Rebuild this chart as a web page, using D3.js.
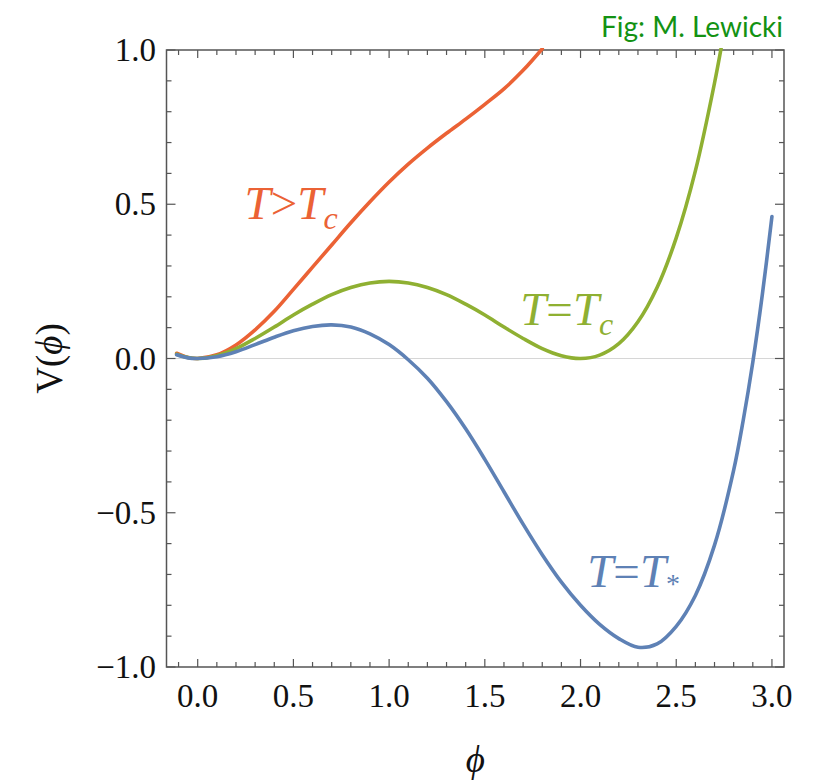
<!DOCTYPE html>
<html>
<head>
<meta charset="utf-8">
<style>
body { margin: 0; background: #fff; }
.frame { fill: none; stroke: #555; stroke-width: 1.5px; }
.tick line { stroke: #555; stroke-width: 1.2px; }
.curve { fill: none; stroke-width: 3.6px; stroke-linecap: round; }
</style>
</head>
<body>
<svg width="820" height="781"></svg>
<script src="https://d3js.org/d3.v7.min.js"></script>
<script>

// values: phi and V(phi)
var phiRed   = [-0.11, -0.05, 0.0, 0.1, 0.2, 0.3, 0.4, 0.5, 0.6, 0.7, 0.8, 0.9, 1.0, 1.1, 1.2, 1.3, 1.4, 1.5, 1.6, 1.7, 1.8];
var vRed     = [0.017, 0.003, 0.0, 0.012, 0.044, 0.093, 0.153, 0.224, 0.296, 0.368, 0.440, 0.508, 0.572, 0.630, 0.682, 0.730, 0.776, 0.824, 0.874, 0.934, 1.004];

var phiGreen = [-0.11, -0.05, 0.0, 0.1, 0.2, 0.3, 0.4, 0.5, 0.6, 0.7, 0.8, 0.9, 1.0, 1.1, 1.2, 1.3, 1.4, 1.5, 1.6, 1.7, 1.8, 1.9, 2.0, 2.1, 2.2, 2.3, 2.4, 2.5, 2.6, 2.7, 2.75];
var vGreen   = [0.014, 0.003, 0.0, 0.009, 0.032, 0.065, 0.102, 0.141, 0.176, 0.207, 0.230, 0.245, 0.250, 0.245, 0.230, 0.207, 0.176, 0.141, 0.102, 0.065, 0.032, 0.009, 0.0, 0.011, 0.048, 0.119, 0.230, 0.391, 0.608, 0.893, 1.06];

var phiBlue  = [-0.11, -0.05, 0.0, 0.1, 0.2, 0.3, 0.4, 0.5, 0.6, 0.7, 0.8, 0.9, 1.0, 1.1, 1.2, 1.3, 1.4, 1.5, 1.6, 1.7, 1.8, 1.9, 2.0, 2.1, 2.2, 2.3, 2.4, 2.5, 2.6, 2.7, 2.8, 2.85, 2.9, 2.95, 3.0];
var vBlue    = [0.012, 0.002, 0.0, 0.006, 0.022, 0.045, 0.069, 0.090, 0.104, 0.109, 0.102, 0.080, 0.045, -0.004, -0.064, -0.140, -0.228, -0.327, -0.432, -0.537, -0.636, -0.725, -0.800, -0.862, -0.908, -0.936, -0.925, -0.868, -0.768, -0.605, -0.362, -0.200, -0.012, 0.208, 0.460];

var xTicks = [0.0, 0.5, 1.0, 1.5, 2.0, 2.5, 3.0];
var yTicks = [-1.0, -0.5, 0.0, 0.5, 1.0];

var series = [
    {name: "red",   color: "#EB6235", phi: phiRed,   v: vRed},
    {name: "green", color: "#8FB032", phi: phiGreen, v: vGreen},
    {name: "blue",  color: "#5E81B5", phi: phiBlue,  v: vBlue}
];

// curve labels (data coords of the label's left baseline)
var labels = [
    {rel: ">", sub: "c", color: "#EB6235", phi: 0.245, v: 0.452, subDy: 10, subSize: 32},
    {rel: "=", sub: "c", color: "#8FB032", phi: 1.685, v: 0.108, subDy: 10, subSize: 32},
    {rel: "=", sub: "*", color: "#5E81B5", phi: 2.035, v: -0.741, subDy: 6, subSize: 28}
];

var SERIF = "'Liberation Serif', 'Times New Roman', serif";

var svg = d3.select("svg");

// plot box (window.top is reserved, so prefix these)
var plotLeft = 166.5, plotRight = 784, plotTop = 50, plotBottom = 667;

var x = d3.scaleLinear().domain([-0.163, 3.063]).range([plotLeft, plotRight]);
var y = d3.scaleLinear().domain([-1, 1]).range([plotBottom, plotTop]);

svg.append("clipPath").attr("id", "plotclip")
    .append("rect")
    .attr("x", plotLeft).attr("y", plotTop - 2)
    .attr("width", plotRight - plotLeft).attr("height", plotBottom - plotTop + 4);

// zero line
svg.append("line")
    .attr("x1", plotLeft).attr("x2", plotRight)
    .attr("y1", y(0)).attr("y2", y(0))
    .attr("stroke", "#d6d6d6").attr("stroke-width", 1.2);

// ticks on all four sides, pointing inward
var minorX = d3.range(-0.1, 3.05, 0.1).map(function(d) { return Math.round(d * 10) / 10; });
var minorY = d3.range(-1.0, 1.05, 0.1).map(function(d) { return Math.round(d * 10) / 10; });
function isMajor(d) { return Math.abs(d * 2 - Math.round(d * 2)) < 1e-6; }

var ticks = svg.append("g").attr("class", "tick");
minorX.forEach(function(d) {
    var len = isMajor(d) ? 8 : 5;
    ticks.append("line").attr("x1", x(d)).attr("x2", x(d)).attr("y1", plotBottom).attr("y2", plotBottom - len);
    ticks.append("line").attr("x1", x(d)).attr("x2", x(d)).attr("y1", plotTop).attr("y2", plotTop + len);
});
minorY.forEach(function(d) {
    var len = isMajor(d) ? 9 : 5;
    ticks.append("line").attr("y1", y(d)).attr("y2", y(d)).attr("x1", plotLeft).attr("x2", plotLeft + len);
    ticks.append("line").attr("y1", y(d)).attr("y2", y(d)).attr("x1", plotRight).attr("x2", plotRight - len);
});

svg.append("rect").attr("class", "frame")
    .attr("x", plotLeft).attr("y", plotTop)
    .attr("width", plotRight - plotLeft).attr("height", plotBottom - plotTop);

// tick labels
svg.selectAll(".xl").data(xTicks).enter().append("text")
    .style("font-family", SERIF).style("font-size", "33px")
    .attr("fill", "#111")
    .attr("x", function(d) { return x(d); })
    .attr("y", 707)
    .attr("text-anchor", "middle")
    .text(function(d) { return d.toFixed(1); });

svg.selectAll(".yl").data(yTicks).enter().append("text")
    .style("font-family", SERIF).style("font-size", "33px")
    .attr("fill", "#111")
    .attr("x", 156)
    .attr("y", function(d) { return y(d) + 11; })
    .attr("text-anchor", "end")
    .text(function(d) { return (d < 0 ? "\u2212" : "") + Math.abs(d).toFixed(1); });

// curves
var line = d3.line()
    .x(function(d) { return x(d[0]); })
    .y(function(d) { return y(d[1]); })
    .curve(d3.curveCatmullRom.alpha(0.5));

svg.append("g").attr("clip-path", "url(#plotclip)")
    .selectAll("path").data(series).enter().append("path")
    .attr("class", "curve")
    .attr("stroke", function(d) { return d.color; })
    .attr("d", function(d) { return line(d3.zip(d.phi, d.v)); });

// curve labels
labels.forEach(function(l) {
    var t = svg.append("text")
        .style("font-family", SERIF).style("font-size", "47px")
        .attr("x", x(l.phi)).attr("y", y(l.v))
        .attr("fill", l.color);
    t.append("tspan").style("font-style", "italic").text("T");
    t.append("tspan").text(l.rel);
    t.append("tspan").style("font-style", "italic").text("T");
    t.append("tspan").attr("dy", l.subDy).style("font-size", l.subSize + "px")
        .style("font-style", l.sub === "*" ? "normal" : "italic").text(l.sub);
});

// axis titles
var yTitle = svg.append("text")
    .style("font-family", SERIF).style("font-size", "37px")
    .attr("transform", "translate(62," + y(0) + ") rotate(-90)")
    .attr("text-anchor", "middle")
    .attr("fill", "#111");
yTitle.append("tspan").text("V(");
yTitle.append("tspan").style("font-style", "italic").text("\u03d5");
yTitle.append("tspan").text(")");

svg.append("text")
    .style("font-family", SERIF).style("font-size", "37px").style("font-style", "italic")
    .attr("x", (plotLeft + plotRight) / 2).attr("y", 772)
    .attr("text-anchor", "middle")
    .attr("fill", "#111")
    .text("\u03d5");

// credit
svg.append("text")
    .style("font-family", "Lato, sans-serif").style("font-size", "28px")
    .attr("x", 783).attr("y", 37)
    .attr("text-anchor", "end")
    .attr("fill", "#139213")
    .text("Fig: M. Lewicki");

</script>
</body>
</html>
